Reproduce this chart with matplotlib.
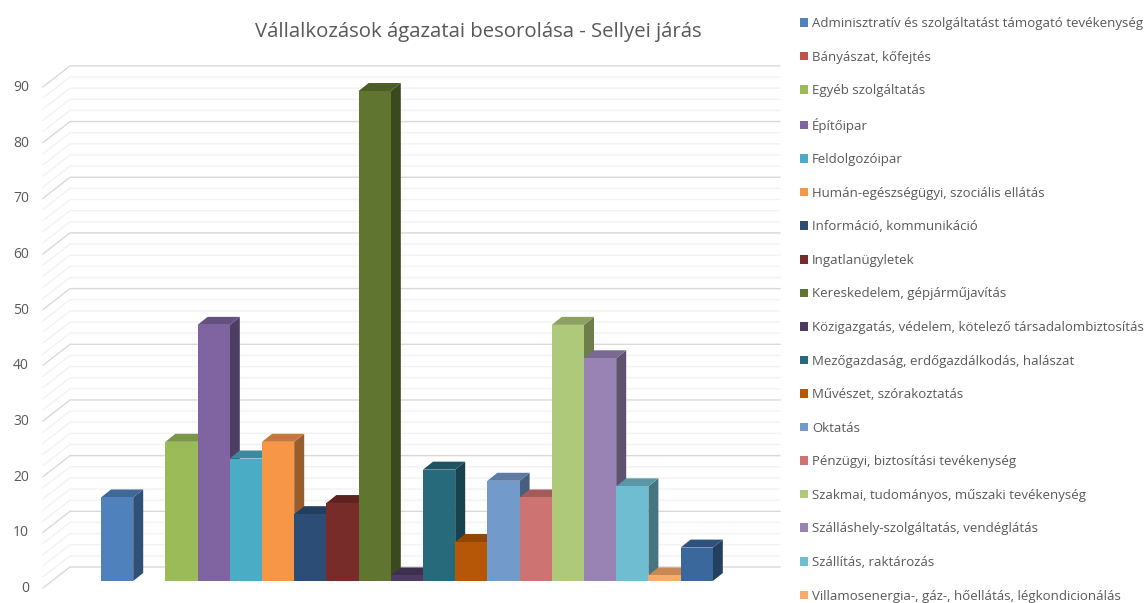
import numpy as np
import matplotlib
matplotlib.use('Agg')
import matplotlib.pyplot as plt
from matplotlib.colors import to_rgb
from matplotlib.patches import Polygon, Patch

# Legend labels (the last bar's legend entry is cut off in the original)
labels = ['Adminisztratív és szolgáltatást támogató tevékenység', 'Bányászat, kőfejtés',
          'Egyéb szolgáltatás', 'Építőipar', 'Feldolgozóipar',
          'Humán-egészségügyi, szociális ellátás', 'Információ, kommunikáció',
          'Ingatlanügyletek', 'Kereskedelem, gépjárműjavítás',
          'Közigazgatás, védelem, kötelező társadalombiztosítás',
          'Mezőgazdaság, erdőgazdálkodás, halászat', 'Művészet, szórakoztatás', 'Oktatás',
          'Pénzügyi, biztosítási tevékenység', 'Szakmai, tudományos, műszaki tevékenység',
          'Szálláshely-szolgáltatás, vendéglátás', 'Szállítás, raktározás',
          'Villamosenergia-, gáz-, hőellátás, légkondicionálás']
values = [15, 0, 25, 46, 22, 25, 12, 14, 88, 1, 20, 7, 18, 15, 46, 40, 17, 1, 6]
colors = ['#4F81BD', '#C0504D', '#9BBB59', '#8064A2', '#4BACC6', '#F79646', '#2C4D75',
          '#772C2A', '#5F7530', '#4D3B62', '#276A7C', '#B65708', '#729ACA', '#CD7371',
          '#AFC97A', '#9983B5', '#6FBDD1', '#F9AB6B', '#3A679C']
major_ticks = list(range(0, 100, 10))
minor_ticks = [t for t in range(0, 92, 2) if t % 10 != 0]

W, H = 1146, 603
# pixel scale of the fake 3D chart
px_x = 32.2
px_y = 5.568
x0_px = 117.1
y0_px = 581

def shade(c, f):
    return tuple(v * f for v in to_rgb(c))

fig = plt.figure(figsize=(W / 100, H / 100), dpi=100)
ax = fig.add_axes([0, 0, 1, 1])
ax.set_xlim(-x0_px / px_x, (W - x0_px) / px_x)
ax.set_ylim(-(H - y0_px) / px_y, y0_px / px_y)
ax.axis('off')
plt.rcParams['font.family'] = 'Open Sans'

# depth of the bars and of the floor, in data units
bar_dx = 10 / px_x
bar_dy = 8 / px_y
wall_left = (70 - x0_px) / px_x
wall_right = (780 - x0_px) / px_x
wall_dy = 14 / px_y
floor_left = (43 - x0_px) / px_x
floor_dy = -7 / px_y

# back wall grid and left wall diagonals
for ticks, col, lw in [(minor_ticks, '#f2f2f2', 1.0), (major_ticks, '#d9d9d9', 1.0)]:
    for t in ticks:
        ax.plot([floor_left, wall_left, wall_right],
                [t + floor_dy, t + wall_dy, t + wall_dy], color=col, lw=lw, zorder=1)

# bars, left to right so every bar covers the side of the previous one
for i, (v, c) in enumerate(zip(values, colors)):
    if v == 0:
        continue
    l, r = i - 0.5, i + 0.5
    z = 2 + i
    ax.bar(i, v, width=1, color=c, zorder=z + 0.5, linewidth=0)
    ax.add_patch(Polygon([(r, 0), (r + bar_dx, bar_dy), (r + bar_dx, v + bar_dy), (r, v)],
                         closed=True, fc=shade(c, 0.62), ec='none', zorder=z))
    ax.add_patch(Polygon([(l, v), (l + bar_dx, v + bar_dy), (r + bar_dx, v + bar_dy), (r, v)],
                         closed=True, fc=shade(c, 0.8), ec='none', zorder=z))

# value axis labels
for t in major_ticks:
    ax.text((29 - x0_px) / px_x, t - 7.5 / px_y, str(t), ha='right', va='center',
            fontsize=10, color='#595959')

ax.text((478 - x0_px) / px_x, (y0_px - 32) / px_y, 'Vállalkozások ágazatai besorolása - Sellyei járás',
        ha='center', va='center', fontsize=14.7, color='#595959')

handles = [Patch(fc=c, ec='none') for c in colors[:len(labels)]]
leg = ax.legend(handles, labels, loc='upper left', bbox_to_anchor=(800 / W, 1 - 17 / H),
                bbox_transform=fig.transFigure, frameon=False, fontsize=9.55,
                labelcolor='#595959', handlelength=0.62, handleheight=0.62,
                handletextpad=0.3, labelspacing=1.55, borderpad=0, borderaxespad=0)

fig.savefig('out.png', dpi=100)
